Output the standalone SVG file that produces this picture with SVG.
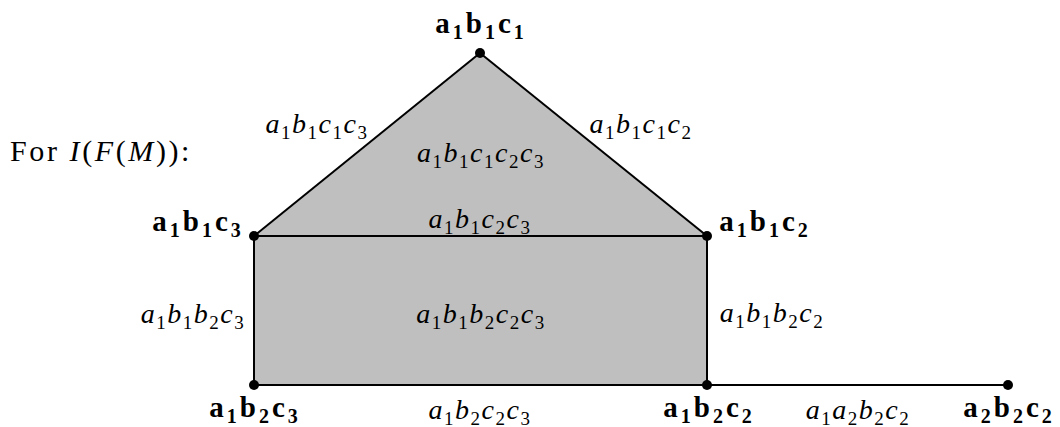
<svg xmlns="http://www.w3.org/2000/svg" width="1060" height="427" viewBox="0 0 1060 427">
<style>
.face{fill:#bfbfbf;stroke:none}
.edge{stroke:#000;stroke-width:2;fill:none}
.dot{fill:#000}
.m{font-family:"Liberation Serif","DejaVu Serif",serif;font-style:italic;font-size:28px;letter-spacing:1.5px;fill:#000}
.b{font-family:"Liberation Serif","DejaVu Serif",serif;font-weight:bold;font-size:29px;letter-spacing:3px;fill:#000}
.t{font-family:"Liberation Serif","DejaVu Serif",serif;font-size:30px;letter-spacing:2.6px;fill:#000}
.s{font-size:19px;font-style:normal}
.b .s{font-size:20px}
</style>
<rect width="1060" height="427" fill="#fff"/>
<g id="faces">
<polygon class="face" points="480,53 254,236 707,236"/>
<rect class="face" x="254" y="236" width="453" height="149"/>
</g>
<g id="connectors">
<line class="edge" x1="480" y1="53" x2="254" y2="236"/>
<line class="edge" x1="480" y1="53" x2="707" y2="236"/>
<line class="edge" x1="254" y1="236" x2="707" y2="236"/>
<line class="edge" x1="254" y1="236" x2="254" y2="385"/>
<line class="edge" x1="707" y1="236" x2="707" y2="385"/>
<line class="edge" x1="254" y1="385" x2="707" y2="385"/>
<line class="edge" x1="707" y1="385" x2="1008" y2="385"/>
</g>
<g id="edge-labels">
<text class="m" x="317" y="133" text-anchor="middle">a<tspan class="s" dy="6">1</tspan><tspan dy="-6">b</tspan><tspan class="s" dy="6">1</tspan><tspan dy="-6">c</tspan><tspan class="s" dy="6">1</tspan><tspan dy="-6">c</tspan><tspan class="s" dy="6">3</tspan></text>
<text class="m" x="641" y="133" text-anchor="middle">a<tspan class="s" dy="6">1</tspan><tspan dy="-6">b</tspan><tspan class="s" dy="6">1</tspan><tspan dy="-6">c</tspan><tspan class="s" dy="6">1</tspan><tspan dy="-6">c</tspan><tspan class="s" dy="6">2</tspan></text>
<text class="m" x="481" y="162" text-anchor="middle">a<tspan class="s" dy="6">1</tspan><tspan dy="-6">b</tspan><tspan class="s" dy="6">1</tspan><tspan dy="-6">c</tspan><tspan class="s" dy="6">1</tspan><tspan dy="-6">c</tspan><tspan class="s" dy="6">2</tspan><tspan dy="-6">c</tspan><tspan class="s" dy="6">3</tspan></text>
<text class="m" x="480" y="228" text-anchor="middle">a<tspan class="s" dy="6">1</tspan><tspan dy="-6">b</tspan><tspan class="s" dy="6">1</tspan><tspan dy="-6">c</tspan><tspan class="s" dy="6">2</tspan><tspan dy="-6">c</tspan><tspan class="s" dy="6">3</tspan></text>
<text class="m" x="193" y="323" text-anchor="middle">a<tspan class="s" dy="6">1</tspan><tspan dy="-6">b</tspan><tspan class="s" dy="6">1</tspan><tspan dy="-6">b</tspan><tspan class="s" dy="6">2</tspan><tspan dy="-6">c</tspan><tspan class="s" dy="6">3</tspan></text>
<text class="m" x="481" y="323" text-anchor="middle">a<tspan class="s" dy="6">1</tspan><tspan dy="-6">b</tspan><tspan class="s" dy="6">1</tspan><tspan dy="-6">b</tspan><tspan class="s" dy="6">2</tspan><tspan dy="-6">c</tspan><tspan class="s" dy="6">2</tspan><tspan dy="-6">c</tspan><tspan class="s" dy="6">3</tspan></text>
<text class="m" x="772" y="322" text-anchor="middle">a<tspan class="s" dy="6">1</tspan><tspan dy="-6">b</tspan><tspan class="s" dy="6">1</tspan><tspan dy="-6">b</tspan><tspan class="s" dy="6">2</tspan><tspan dy="-6">c</tspan><tspan class="s" dy="6">2</tspan></text>
<text class="m" x="480" y="419" text-anchor="middle">a<tspan class="s" dy="6">1</tspan><tspan dy="-6">b</tspan><tspan class="s" dy="6">2</tspan><tspan dy="-6">c</tspan><tspan class="s" dy="6">2</tspan><tspan dy="-6">c</tspan><tspan class="s" dy="6">3</tspan></text>
<text class="m" x="858" y="419" text-anchor="middle">a<tspan class="s" dy="6">1</tspan><tspan dy="-6">a</tspan><tspan class="s" dy="6">2</tspan><tspan dy="-6">b</tspan><tspan class="s" dy="6">2</tspan><tspan dy="-6">c</tspan><tspan class="s" dy="6">2</tspan></text>
</g>
<text class="t" x="10" y="161">For <tspan font-style="italic">I</tspan>(<tspan font-style="italic">F</tspan>(<tspan font-style="italic">M</tspan>)):</text>
<g id="n-a1b1c1"><circle class="dot" cx="480" cy="53" r="5"/><text class="b" x="481" y="33" text-anchor="middle">a<tspan class="s" dy="6">1</tspan><tspan dy="-6">b</tspan><tspan class="s" dy="6">1</tspan><tspan dy="-6">c</tspan><tspan class="s" dy="6">1</tspan></text></g>
<g id="n-a1b1c3"><circle class="dot" cx="254" cy="236" r="5"/><text class="b" x="198" y="231" text-anchor="middle">a<tspan class="s" dy="6">1</tspan><tspan dy="-6">b</tspan><tspan class="s" dy="6">1</tspan><tspan dy="-6">c</tspan><tspan class="s" dy="6">3</tspan></text></g>
<g id="n-a1b1c2"><circle class="dot" cx="707" cy="236" r="5"/><text class="b" x="765" y="231" text-anchor="middle">a<tspan class="s" dy="6">1</tspan><tspan dy="-6">b</tspan><tspan class="s" dy="6">1</tspan><tspan dy="-6">c</tspan><tspan class="s" dy="6">2</tspan></text></g>
<g id="n-a1b2c3"><circle class="dot" cx="254" cy="385" r="5"/><text class="b" x="255" y="417" text-anchor="middle">a<tspan class="s" dy="6">1</tspan><tspan dy="-6">b</tspan><tspan class="s" dy="6">2</tspan><tspan dy="-6">c</tspan><tspan class="s" dy="6">3</tspan></text></g>
<g id="n-a1b2c2"><circle class="dot" cx="707" cy="385" r="5"/><text class="b" x="709" y="417" text-anchor="middle">a<tspan class="s" dy="6">1</tspan><tspan dy="-6">b</tspan><tspan class="s" dy="6">2</tspan><tspan dy="-6">c</tspan><tspan class="s" dy="6">2</tspan></text></g>
<g id="n-a2b2c2"><circle class="dot" cx="1008" cy="385" r="5"/><text class="b" x="1009" y="417" text-anchor="middle">a<tspan class="s" dy="6">2</tspan><tspan dy="-6">b</tspan><tspan class="s" dy="6">2</tspan><tspan dy="-6">c</tspan><tspan class="s" dy="6">2</tspan></text></g>
</svg>
